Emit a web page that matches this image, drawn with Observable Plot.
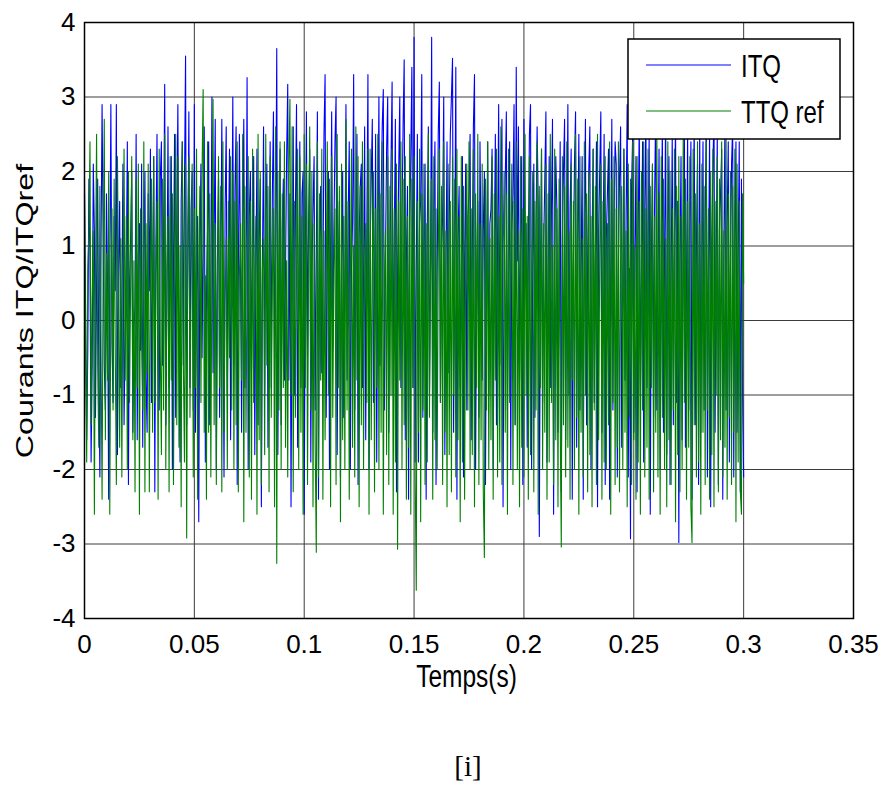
<!DOCTYPE html>
<html>
<head>
<meta charset="utf-8">
<script src="https://cdn.jsdelivr.net/npm/d3@7"></script>
<script src="https://cdn.jsdelivr.net/npm/@observablehq/plot@0.6"></script>
<style>
  body { margin: 0; background: white; }
  #caption { font-family: "Liberation Serif", "Times New Roman", serif; font-size: 29px; text-align: center; width: 200px; margin-left: 368px; margin-top: 41px; line-height: 30px; }
</style>
</head>
<body>
<div id="chart"></div>
<div id="caption">[i]</div>
<script>
// ---- data ----
const duration = 0.3; // s, samples are evenly spaced from 0 to 0.3
const seriesNames = ["ITQ", "TTQ ref"];
const seriesColors = ["#0000ff", "#008000"];
const xTicks = [0, 0.05, 0.1, 0.15, 0.2, 0.25, 0.3, 0.35];
const yTicks = [-4, -3, -2, -1, 0, 1, 2, 3, 4];
const xLabel = "Temps(s)";
const yLabel = "Courants ITQ/ITQref";

const itq = [
 1.7,0.2,-1.6,-0.4,1.9,0.8,-1.9,-0.6,2.1,1.2,-1.3,0.5,1.9,-0.7,-2.1,0.9,2.9,1.1,-0.6,-1.2,
 1.7,0.4,-2.4,0.6,2.9,-0.3,-1.1,1.4,0.4,2.9,-1.8,0.7,1.6,-0.9,0.3,2.1,-1.4,-0.2,0.6,2.4,
 -2.2,0.5,1.1,2.0,-1.5,-0.1,0.2,2.5,-1.6,0.9,1.3,-0.4,2.1,-1.7,0.8,2.0,-0.8,-1.5,1.7,0.4,
 2.3,-1.1,0.6,2.2,-2.3,1.0,2.5,-0.5,-1.2,1.9,2.4,-0.6,1.1,3.17,-1.4,0.2,2.6,-0.9,1.3,2.2,
 -2.0,0.7,2.5,-1.3,1.4,2.9,-0.5,-1.9,1.6,2.4,-0.6,1.8,3.55,-1.4,0.6,2.8,-0.9,1.5,2.0,-1.2,
 2.9,-1.5,0.4,1.4,-2.7,0.9,2.1,-0.5,1.2,2.6,-1.9,0.3,1.2,2.4,-1.4,0.5,3.0,-0.7,1.1,2.7,
 -2.0,0.8,1.9,-1.3,0.5,2.7,0.4,-2.1,1.5,2.6,-1.0,0.9,2.3,-1.6,0.7,3.0,-0.6,1.8,2.6,-2.2,
 0.6,2.5,0.8,-1.5,1.2,2.7,-0.9,0.4,3.26,-2.0,1.4,2.0,-0.7,0.8,2.2,-1.8,0.6,2.3,-1.4,1.1,
 1.9,-2.5,0.8,2.6,-1.0,1.5,2.1,-1.7,0.3,2.4,-0.9,1.7,2.8,-0.5,1.0,3.65,-1.8,0.6,2.3,-1.4,
 1.2,1.9,-0.8,0.7,2.2,3.17,-0.8,1.7,-2.5,0.5,2.6,-1.0,1.5,2.9,-1.7,0.4,2.4,-0.9,1.7,2.0,
 -2.6,0.8,2.8,-0.5,1.3,2.3,-1.9,0.6,1.5,2.2,-1.2,0.9,2.8,-2.4,1.1,1.8,-0.7,0.5,2.5,3.3,
 -1.3,0.7,2.0,-2.0,0.9,2.8,-0.4,1.2,2.4,3.0,-1.8,0.5,1.6,-2.1,0.8,2.0,-1.3,0.6,2.9,-0.8,
 1.4,2.4,-2.0,0.7,1.3,3.3,-1.2,0.8,2.5,-2.2,1.1,1.8,2.1,-0.9,0.5,2.6,-1.6,1.2,3.3,-2.0,
 0.9,1.9,2.7,-1.1,0.4,2.5,-1.9,1.0,3.0,-0.6,1.6,2.6,3.1,-1.2,0.9,2.3,3.0,-1.5,0.7,2.1,
 3.2,-1.0,1.1,2.7,-2.3,0.6,2.0,3.0,-0.9,1.4,2.6,3.5,-1.6,0.8,1.8,-2.4,1.2,2.2,3.4,-0.9,
 3.8,-1.9,0.7,2.5,-1.9,1.3,1.6,3.3,-1.3,0.9,2.1,-2.4,1.2,2.6,-1.0,0.8,3.8,-1.5,1.5,2.4,
 -2.2,0.6,2.5,3.2,-1.1,0.9,1.4,3.0,-1.8,0.7,2.4,-0.7,1.3,2.5,3.0,3.52,-1.5,0.8,3.4,-2.4,
 1.1,1.8,-0.9,0.6,2.2,-2.1,0.8,2.1,-1.2,1.4,1.7,2.5,-1.6,0.9,2.6,3.3,-2.0,0.5,1.6,-1.3,
 2.4,0.8,-0.8,1.2,2.0,-2.2,0.6,2.4,-1.0,1.3,1.5,2.3,-2.0,0.9,2.5,-1.4,1.0,2.9,-0.6,1.8,
 2.7,-2.5,0.7,1.9,2.8,-1.2,0.5,2.4,-2.0,1.2,1.7,2.9,-1.4,3.4,0.8,2.6,-0.8,1.1,2.2,-2.2,
 2.7,0.6,1.3,-1.7,0.9,2.5,2.9,-2.0,0.7,2.1,-1.3,1.2,2.6,1.6,-2.9,0.5,2.3,-1.1,1.0,1.9,
 2.8,-1.9,0.6,2.2,-0.9,1.4,2.7,-2.6,0.8,2.2,1.5,-1.5,0.7,2.4,-2.3,1.1,2.0,2.7,-1.6,0.9,
 2.9,-1.0,1.5,2.3,-2.4,0.7,2.1,2.8,-1.7,1.0,2.5,-1.2,0.6,2.2,-2.4,1.3,2.7,-1.4,0.8,2.0,
 2.6,-2.0,1.0,2.3,-1.1,0.7,2.4,-2.5,1.2,2.0,2.8,-1.5,0.8,2.5,-2.2,1.1,1.7,2.3,-2.4,0.6,
 2.7,-1.2,1.3,2.4,2.1,-2.1,0.8,1.9,2.6,-1.7,0.6,2.3,-0.8,1.4,2.9,-2.1,0.7,-2.93,1.8,2.5,
 -1.5,0.9,2.2,-2.3,1.2,2.7,-1.0,0.6,2.4,-1.9,1.5,2.8,-0.9,1.1,2.5,-2.6,0.8,2.1,-1.3,1.7,
 2.9,-1.2,0.7,2.3,-2.0,1.0,2.6,-1.5,0.9,2.8,-1.8,1.3,2.2,-2.2,0.6,2.5,-1.4,1.1,2.7,-1.1,
 1.6,-2.98,0.8,2.2,-1.6,1.2,2.8,-1.7,0.5,2.5,-1.2,1.3,2.4,-2.4,0.9,2.7,-1.4,1.0,2.1,-2.2,
 2.6,-1.5,0.7,2.4,-1.2,1.3,2.8,-2.1,0.6,2.5,-2.5,1.1,2.0,2.8,-1.5,0.8,2.5,-2.2,1.2,1.7,
 2.3,-2.4,0.9,2.7,-1.2,1.3,2.4,-1.9,0.7,2.1,2.6,-2.1,1.0,2.4,-1.5,0.8,2.4,-2.3,1.9,-1.0,
 -2.1
];

const ttqRef = [
 1.9,-0.5,-1.9,0.7,1.2,2.4,-1.4,0.3,1.2,-2.6,0.6,2.5,-0.6,-1.7,1.8,-0.3,-2.4,0.8,2.7,-1.6,
 0.9,-0.8,2.0,-2.6,0.4,1.5,-1.2,1.9,-0.4,-2.2,2.2,0.3,-1.7,1.1,-2.1,0.6,2.3,-0.8,1.4,-2.0,
 2.0,-1.1,0.5,2.2,-1.6,0.8,-2.3,1.9,-0.9,2.1,-2.6,1.5,-0.3,-1.2,2.4,-2.3,1.3,-0.7,2.1,-2.3,
 0.4,1.9,-1.5,2.2,-1.1,0.6,1.6,-2.4,2.3,-0.4,-1.8,1.9,-1.2,2.5,-2.0,0.7,1.4,-2.3,2.2,-0.8,
 1.7,-2.2,0.5,2.5,-1.4,2.2,-1.7,1.0,-2.5,2.4,-0.6,-1.9,2.1,-2.92,1.2,2.2,-1.3,0.4,2.1,-2.1,
 1.5,-0.9,2.3,-2.4,0.7,1.8,-1.1,2.0,3.1,-1.5,0.6,-2.4,2.4,-1.5,1.7,-2.1,0.9,2.97,-1.4,1.3,
 -2.2,0.5,2.2,-0.9,1.8,-2.3,2.4,-1.5,0.3,1.1,-2.0,1.6,-0.5,2.2,-1.2,2.0,-2.0,1.6,-1.4,2.4,
 -2.3,0.6,1.3,-0.8,2.5,-2.7,1.8,-1.5,0.4,2.2,-2.1,1.6,-2.4,2.3,-1.1,0.5,1.4,-2.6,2.5,-1.6,
 2.0,-2.2,0.7,1.1,-1.8,2.5,-0.6,1.8,-2.3,2.2,-1.3,0.5,1.5,-2.5,2.6,-3.26,2.0,-1.2,2.4,-2.0,
 1.7,-0.9,2.4,-1.7,0.8,-2.1,2.1,2.97,-1.0,2.6,-2.3,1.6,-1.3,0.6,2.3,-2.0,2.2,-1.5,1.4,-2.6,
 2.5,-0.9,2.1,-2.2,0.8,2.6,-1.2,2.0,-2.5,1.3,-1.7,-3.11,2.4,-2.1,1.7,-0.8,2.3,-2.4,1.2,-1.6,
 0.4,2.4,-1.0,1.9,-2.5,2.2,-1.3,0.7,1.5,-2.2,2.5,-0.9,1.8,-2.7,2.1,-1.6,1.4,-2.0,2.7,-1.2,
 1.6,-2.4,0.5,2.3,-1.7,1.0,-2.1,2.6,-0.8,2.2,-2.5,1.8,-1.4,2.4,-2.0,0.6,1.3,-1.1,2.3,-2.6,
 2.3,-1.6,0.7,2.0,-2.3,1.5,-0.9,2.5,-2.0,1.7,-1.5,2.4,-2.6,0.5,1.2,-1.8,2.2,-2.2,1.8,-1.0,
 2.3,-2.6,1.5,-1.9,2.1,-3.07,1.6,-0.8,2.4,-2.0,1.9,-1.4,2.2,-2.4,1.4,-1.7,2.5,-2.6,1.9,-0.9,
 2.2,-2.1,-3.62,1.6,-1.5,2.3,-2.7,1.7,-1.2,2.1,-2.2,1.3,-1.9,2.5,-1.3,0.6,1.9,-2.4,2.2,-1.6,
 1.5,-2.0,0.8,2.3,-1.1,1.8,-2.2,2.4,-1.5,1.2,-2.5,2.1,-1.8,1.6,-2.3,2.2,-1.0,1.9,-2.1,2.3,
 -1.6,1.4,-2.7,2.2,-1.9,1.8,-2.4,0.9,2.1,-1.2,2.4,-2.0,1.5,-1.8,2.3,-2.5,1.7,-0.9,2.5,-2.2,
 1.3,-1.6,2.1,-2.3,-3.18,1.9,-1.2,2.4,-2.0,1.1,-1.6,2.2,-2.4,1.7,-0.8,2.3,-2.1,1.4,-1.9,2.6,
 -2.2,0.9,2.0,-1.5,1.7,-2.6,2.3,-1.1,0.8,2.1,-2.2,1.6,-1.4,2.4,-2.0,1.2,-2.5,2.2,-1.7,1.5,
 -2.1,2.5,-1.0,1.4,-2.4,2.2,-1.8,0.7,2.0,-2.3,1.6,-1.2,2.4,-2.6,1.8,-0.9,2.3,-2.0,1.3,-1.5,
 2.1,-2.4,1.7,-1.9,2.5,-1.1,1.0,-2.2,2.3,-1.6,1.5,-2.5,1.9,-1.3,-3.04,2.2,-1.4,1.8,-2.1,2.4,
 -1.7,1.2,-2.4,2.1,-0.8,1.6,-2.0,2.5,-1.3,1.9,-2.6,2.2,-1.5,1.1,-2.1,2.4,-1.0,1.7,-2.3,2.0,
 -1.8,1.4,-2.5,2.3,-1.2,1.8,-2.2,2.5,-1.6,0.9,2.1,-2.4,1.6,-1.9,2.2,-2.0,1.3,-1.4,2.4,-2.6,
 1.9,-1.1,2.2,-2.2,1.5,-1.7,2.4,-2.3,0.8,1.8,-2.0,2.3,-1.5,1.2,-2.5,2.1,-1.3,1.9,-2.2,2.4,
 -1.6,1.0,-2.4,2.2,-1.9,1.6,-2.6,2.0,-1.2,2.4,-2.1,1.5,-1.7,2.3,-2.4,1.8,-0.9,2.1,-2.3,1.4,
 -1.5,2.5,-2.1,1.7,-2.6,2.2,-1.3,1.9,-2.0,1.1,-2.5,2.4,-1.6,2.0,-2.2,1.5,-1.2,2.3,-2.7,1.8,
 -1.8,2.2,-2.3,1.4,-2.0,2.5,-1.1,1.9,-2.4,1.6,-1.7,2.2,-2.5,-2.98,2.3,-1.4,1.7,-2.1,2.4,-1.9,
 1.3,-2.6,2.1,-1.5,1.8,-2.2,2.4,-1.2,1.5,-2.4,2.0,-1.8,2.3,-2.5,1.6,-1.0,2.2,-2.3,1.9,-1.6,
 2.4,-2.1,1.2,-1.7,2.5,-2.4,1.7,-1.3,2.0,-2.2,1.8,-1.5,2.3,-2.7,2.1,-1.9,1.6,-2.3,-2.6,1.7,
 0.5
];

// ---- chart ----
const font = "'Liberation Sans', Arial, Helvetica, sans-serif";
const timeOf = arr => (d, i) => i * duration / (arr.length - 1);

const plot = Plot.plot({
  width: 885,
  height: 710,
  marginLeft: 84,
  marginRight: 32,
  marginTop: 22,
  marginBottom: 92,
  style: { fontFamily: font, fontSize: "26px", background: "white", color: "black" },
  x: { domain: [0, 0.35], ticks: xTicks, tickSize: 0, tickPadding: 16, tickFormat: d => String(d), label: null },
  y: { domain: [-4, 4], ticks: yTicks, tickSize: 0, tickPadding: 9, tickFormat: d => String(d), label: null },
  marks: [
    Plot.ruleX(xTicks, { stroke: "#3c3c3c", strokeWidth: 1 }),
    Plot.ruleY(yTicks, { stroke: "#3c3c3c", strokeWidth: 1 }),
    Plot.line(itq, { x: timeOf(itq), y: d => d, stroke: seriesColors[0], strokeWidth: 1.1 }),
    Plot.line(ttqRef, { x: timeOf(ttqRef), y: d => d, stroke: seriesColors[1], strokeWidth: 1.1 }),
    Plot.frame({ stroke: "black", strokeWidth: 1.5 })
  ]
});
document.getElementById("chart").appendChild(plot);

const svg = d3.select(plot);
const sx = plot.scale("x"), sy = plot.scale("y");
const cx = (sx.range[0] + sx.range[1]) / 2;
const cy = (sy.range[0] + sy.range[1]) / 2;

// axis titles
svg.append("text")
  .attr("transform", `translate(${cx - 2},687) scale(1,1.3)`)
  .attr("text-anchor", "middle")
  .attr("font-family", font).attr("font-size", 24.5).attr("fill", "black")
  .text(xLabel);
svg.append("text")
  .attr("transform", `translate(33,${cy - 9}) rotate(-90) scale(1.32,1)`)
  .attr("text-anchor", "middle")
  .attr("font-family", font).attr("font-size", 24.5).attr("fill", "black")
  .text(yLabel);

// legend
const lg = svg.append("g");
lg.append("rect").attr("x", 628).attr("y", 39).attr("width", 212).attr("height", 100)
  .attr("fill", "white").attr("stroke", "black").attr("stroke-width", 1.5);
seriesNames.forEach((name, k) => {
  const yy = 65 + k * 46;
  lg.append("line").attr("x1", 646).attr("x2", 731).attr("y1", yy).attr("y2", yy)
    .attr("stroke", seriesColors[k]).attr("stroke-width", 1.2);
  lg.append("text")
    .attr("transform", `translate(741,${yy + 12}) scale(1,1.28)`)
    .attr("text-anchor", "start")
    .attr("font-family", font).attr("font-size", 24).attr("fill", "black")
    .text(name);
});
</script>
</body>
</html>
